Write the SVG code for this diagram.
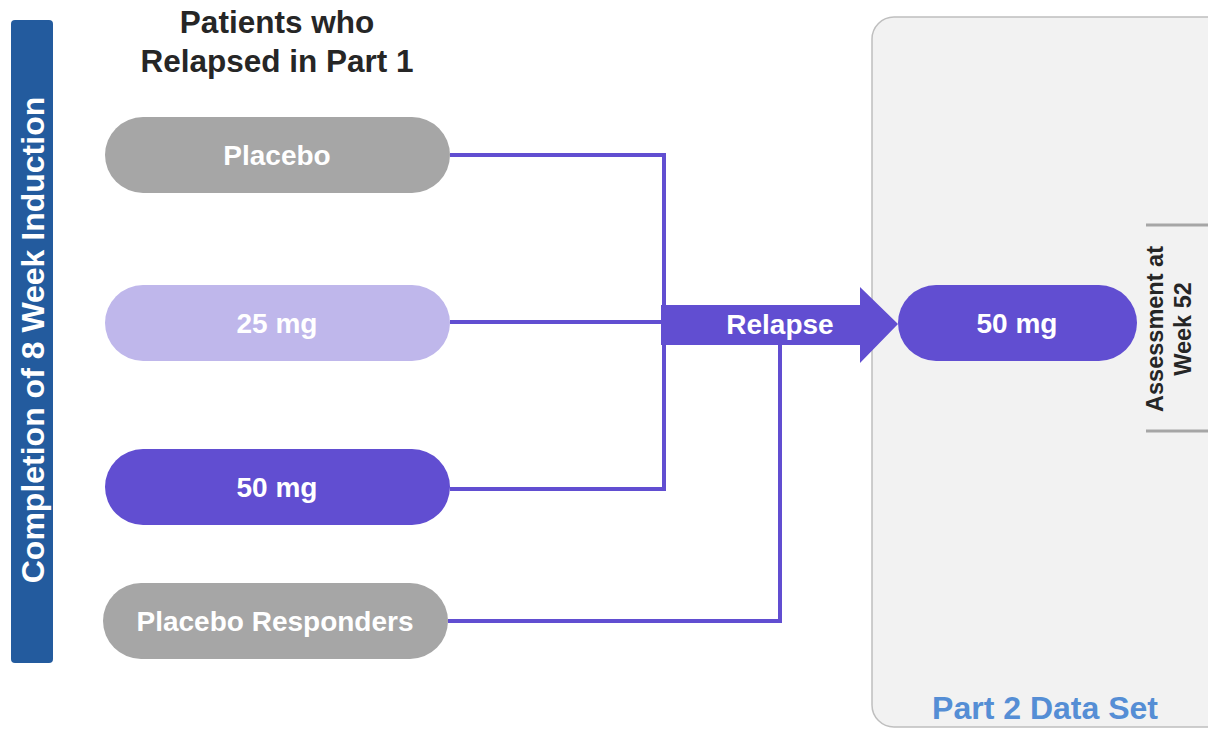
<svg xmlns="http://www.w3.org/2000/svg" width="1208" height="729" viewBox="0 0 1208 729">
<style>
.t{font-family:"Liberation Sans",Arial,sans-serif;font-weight:bold;text-anchor:middle}
.w{fill:#fff;font-size:28px}
.c{fill:none;stroke:#614ED1;stroke-width:4}
</style>
<rect width="1208" height="729" fill="#fff"/>
<g id="panel">
<rect x="872" y="17" width="360" height="710" rx="22" fill="#F2F2F2" stroke="#BFBFBF" stroke-width="1.5"/>
<text class="t" x="1045" y="719" font-size="32" fill="#558ED5">Part 2 Data Set</text>
</g>
<g id="induction">
<rect x="11" y="20" width="42" height="643" rx="4" fill="#235B9E"/>
<text class="t" transform="translate(44,340) rotate(-90)" font-size="32" fill="#fff">Completion of 8 Week Induction</text>
</g>
<g id="title">
<text class="t" x="277" y="33" font-size="31.5" fill="#262626">Patients who</text>
<text class="t" x="277" y="72" font-size="31.5" fill="#262626">Relapsed in Part 1</text>
</g>
<g id="connectors">
<path class="c" d="M450 155 H664 V489 H450"/>
<path class="c" d="M450 322 H664"/>
<path class="c" d="M448 621 H780 V345"/>
</g>
<g id="relapse">
<polygon points="661,305 860,305 860,287 898,324 860,363 860,345 661,345" fill="#614ED1"/>
<text class="t w" x="780" y="334">Relapse</text>
</g>
<g id="placebo">
<rect x="105" y="117" width="345" height="76" rx="38" fill="#A6A6A6"/>
<text class="t w" x="277" y="165">Placebo</text>
</g>
<g id="dose25">
<rect x="105" y="285" width="345" height="76" rx="38" fill="#BFB7EB"/>
<text class="t w" x="277" y="333">25 mg</text>
</g>
<g id="dose50">
<rect x="105" y="449" width="345" height="76" rx="38" fill="#614ED1"/>
<text class="t w" x="277" y="497">50 mg</text>
</g>
<g id="responders">
<rect x="103" y="583" width="345" height="76" rx="38" fill="#A6A6A6"/>
<text class="t w" x="275" y="631">Placebo Responders</text>
</g>
<g id="part2dose">
<rect x="898" y="285" width="239" height="76" rx="38" fill="#614ED1"/>
<text class="t w" x="1017" y="333">50 mg</text>
</g>
<g id="assessment">
<path d="M1146 225 H1208 M1146 431 H1208" stroke="#A6A6A6" stroke-width="3" fill="none"/>
<text class="t" transform="translate(1163,329) rotate(-90)" font-size="23.5" fill="#262626">Assessment at</text>
<text class="t" transform="translate(1191,329) rotate(-90)" font-size="23.5" fill="#262626">Week 52</text>
</g>
</svg>
